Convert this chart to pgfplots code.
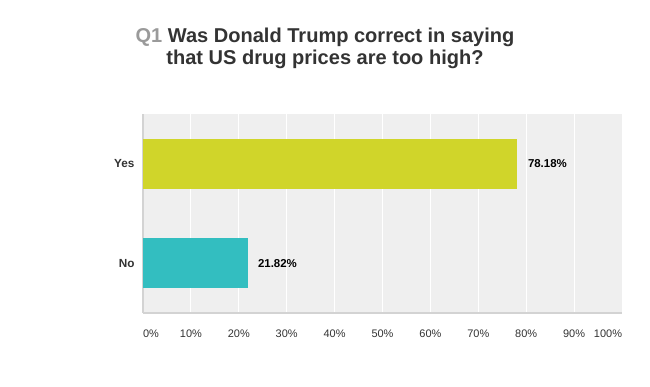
\documentclass[border=0pt]{standalone}
\usepackage{fontspec}
\setmainfont{Liberation Sans}
\usepackage{pgfplots}
\pgfplotsset{compat=1.18}
\definecolor{yesc}{HTML}{D0D52A}
\definecolor{noc}{HTML}{33BEC0}
\definecolor{bgc}{HTML}{EFEFEF}
\definecolor{axc}{HTML}{D3D3D3}
\definecolor{txt}{HTML}{333333}
\definecolor{qgray}{HTML}{9A9A9A}
\begin{document}
\begin{tikzpicture}
\useasboundingbox (0bp,0bp) rectangle (650bp,387bp);
\fill[white] (0bp,0bp) rectangle (650bp,387bp);
\node[anchor=base, align=center, font=\fontsize{20.1}{23}\selectfont\bfseries, text=txt, inner sep=0] at (325bp,322bp)
  {{\color{qgray}Q1} Was Donald Trump correct in saying\\that US drug prices are too high?};
\begin{axis}[
  at={(143bp,74bp)}, anchor=south west,
  scale only axis, width=479bp, height=199bp,
  xmin=0, xmax=100, ymin=-0.5, ymax=1.5,
  xbar, bar width=0.5, bar shift=0pt,
  axis background/.style={fill=bgc},
  axis x line*=bottom, axis y line*=left,
  x axis line style={draw=axc, line width=2bp},
  y axis line style={draw=axc, line width=1.5bp},
  xtick={0,10,...,100},
  xticklabels={\rlap{0\%},10\%,20\%,30\%,40\%,50\%,60\%,70\%,80\%,90\%,\llap{100\%}},
  ytick={0,1}, yticklabels={No,Yes},
  major tick length=0,
  xmajorgrids, grid style={draw=white, line width=1bp},
  /pgf/number format/assume math mode=true,
  xticklabel style={font=\fontsize{11}{13}\selectfont, text=txt, yshift=-13bp},
  yticklabel style={font=\fontsize{11.8}{13}\selectfont\bfseries, text=txt, xshift=-5bp},
  point meta=x,
  nodes near coords={\pgfmathprintnumber[fixed,precision=2,fixed zerofill]{\pgfplotspointmeta}\%},
  every node near coord/.append style={font=\fontsize{11.5}{13}\selectfont\bfseries, text=black, anchor=west, xshift=7bp},
]
\addplot[draw=none, fill=noc] coordinates {(21.82,0)};
\addplot[draw=none, fill=yesc] coordinates {(78.18,1)};
\end{axis}
\end{tikzpicture}
\end{document}
